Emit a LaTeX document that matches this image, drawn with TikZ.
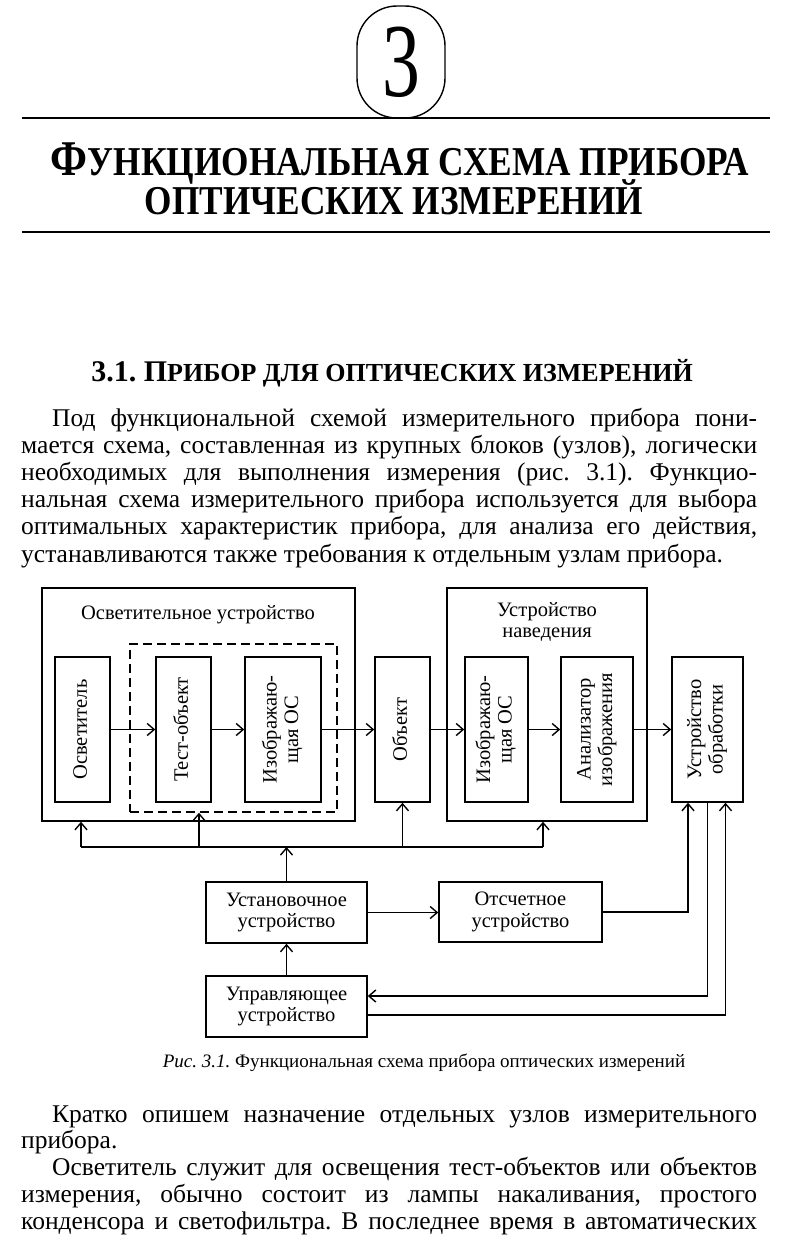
\documentclass[tikz,border=0pt]{standalone}
\usepackage{fontspec}
\usepackage{graphicx}
\setmainfont{Liberation Serif}[BoldFont={Liberation Serif Bold}, ItalicFont={Liberation Serif Italic}]
\frenchspacing
\usetikzlibrary{arrows.meta}
\tikzset{
  blk/.style={draw, line width=1.5pt, inner sep=0pt, font=\fontsize{20.5}{21.5}\selectfont},
  grp/.style={draw, line width=1.5pt, inner sep=0pt},
  dsh/.style={draw, line width=1.4pt, inner sep=0pt, dash pattern=on 9pt off 5pt},
  arr/.style={line width=1.4pt, -{Straight Barb[length=7pt,width=12pt,line width=1.4pt]}},
  ln/.style={line width=1.4pt},
  rule/.style={line width=2pt},
  lbl/.style={inner sep=0pt, align=center, font=\fontsize{20.5}{21.5}\selectfont},
  txt/.style={anchor=base west, inner sep=0pt, font=\fontsize{25.5}{27}\selectfont},
  captxt/.style={anchor=base, inner sep=0pt, font=\fontsize{19}{22}\selectfont},
  head/.style={anchor=base, inner sep=0pt, font=\bfseries},
}
\newcommand\rot[1]{\rotatebox{90}{\begin{tabular}{@{}c@{}}#1\end{tabular}}}
\begin{document}
\begin{tikzpicture}[x=1pt,y=-1pt]
\useasboundingbox[fill=white] (0,0) rectangle (794,1258);
% chapter number
\node[draw, line width=1.4pt, rounded corners=40pt, minimum width=88pt, minimum height=112pt, inner sep=0pt] (chap) at (401,62)
  {\scalebox{0.72}[1]{\fontsize{105}{105}\selectfont 3}};
\draw[rule] (22,118) -- (770,118);
\node[head] (t1) at (400,175)
  {\scalebox{0.86}[1]{\fontsize{50}{50}\selectfont Ф\fontsize{41}{41}\selectfont УНКЦИОНАЛЬНАЯ СХЕМА ПРИБОРА}};
\node[head] (t2) at (394,214)
  {\scalebox{0.86}[1]{\fontsize{41}{41}\selectfont ОПТИЧЕСКИХ ИЗМЕРЕНИЙ}};
\draw[rule] (22,232) -- (770,232);
% section heading
\node[head] (h1) at (392,381)
  {\fontsize{30}{30}\selectfont 3.1. П\fontsize{26}{26}\selectfont РИБОР ДЛЯ ОПТИЧЕСКИХ ИЗМЕРЕНИЙ};
% paragraph
\node[txt] (p1) at (52,426) {\makebox[705pt][s]{Под функциональной схемой измерительного прибора пони-}};
\node[txt] (p2) at (21,453.2) {\makebox[736pt][s]{мается схема, составленная из крупных блоков (узлов), логически}};
\node[txt] (p3) at (21,480.4) {\makebox[736pt][s]{необходимых для выполнения измерения (рис. 3.1). Функцио-}};
\node[txt] (p4) at (21,507.6) {\makebox[736pt][s]{нальная схема измерительного прибора используется для выбора}};
\node[txt] (p5) at (21,534.8) {\makebox[736pt][s]{оптимальных характеристик прибора, для анализа его действия,}};
\node[txt] (p6) at (21,562) {устанавливаются также требования к отдельным узлам прибора.};
% diagram groups
\node[grp, minimum width=313pt, minimum height=233pt] (g1) at (198.5,704.5) {};
\node[lbl] (g1t) at (198,615) {Осветительное устройство};
\node[dsh, minimum width=207pt, minimum height=168pt] (dg) at (233.5,728) {};
\node[grp, minimum width=200pt, minimum height=233pt] (g2) at (547,704.5) {};
\node[lbl] (g2t) at (547,622) {Устройство\\наведения};
% blocks
\node[blk, minimum width=55pt, minimum height=145pt] (osv) at (82.5,729.5) {\rot{Осветитель}};
\node[blk, minimum width=55pt, minimum height=145pt] (test) at (183.5,729.5) {\rot{Тест-объект}};
\node[blk, minimum width=76pt, minimum height=145pt] (izo1) at (283,729.5) {\rot{Изображаю-\\щая ОС}};
\node[blk, minimum width=55pt, minimum height=145pt] (obj) at (402.5,729.5) {\rot{Объект}};
\node[blk, minimum width=63pt, minimum height=145pt] (izo2) at (496.5,729.5) {\rot{Изображаю-\\щая ОС}};
\node[blk, minimum width=72pt, minimum height=145pt] (anl) at (597,729.5) {\rot{Анализатор\\изображения}};
\node[blk, minimum width=71pt, minimum height=145pt] (obr) at (707.5,729.5) {\rot{Устройство\\обработки}};
\node[blk, minimum width=161pt, minimum height=61pt, align=center] (ust) at (286.5,912.5) {Установочное\\устройство};
\node[blk, minimum width=163pt, minimum height=60pt, align=center] (ots) at (520.5,912) {Отсчетное\\устройство};
\node[blk, minimum width=161pt, minimum height=61pt, align=center] (upr) at (286.5,1006.5) {Управляющее\\устройство};
% main optical chain
\draw[arr] (osv) -- (test);
\draw[arr] (test) -- (izo1);
\draw[arr] (izo1) -- (obj);
\draw[arr] (obj) -- (izo2);
\draw[arr] (izo2) -- (anl);
\draw[arr] (anl) -- (obr);
% bus
\coordinate (bL) at (81,847);
\coordinate (bD) at (199,847);
\coordinate (bR) at (543,847);
\draw[ln] (bL) -- (bR);
\draw[arr] (bL) -- (bL |- g1.south);
\draw[arr] (bD) -- (bD |- dg.south);
\draw[arr] (obj.south |- bL) -- (obj.south);
\draw[arr] (bR) -- (bR |- g2.south);
\draw[arr] (ust.north) -- (ust.north |- bL);
% lower links
\draw[arr] (ust.east) -- (ust.east -| ots.west);
\draw[arr] (ots.east) -| ([xshift=-19.5pt]obr.south);
\draw[arr] (obr.south) |- ([yshift=10.5pt]upr.east);
\draw[arr] ([yshift=-8.5pt]upr.east) -| ([xshift=18pt]obr.south);
\draw[arr] (upr.north) -- (ust.south);
% caption
\node[captxt] (cp) at (424,1067) {\textit{Рис. 3.1.} Функциональная схема прибора оптических измерений};
% following text
\node[txt] (q1) at (52,1122) {\makebox[705pt][s]{Кратко опишем назначение отдельных узлов измерительного}};
\node[txt] (q2) at (21,1148.8) {прибора.};
\node[txt] (q3) at (52,1175.6) {\makebox[705pt][s]{Осветитель служит для освещения тест-объектов или объектов}};
\node[txt] (q4) at (21,1202.4) {\makebox[736pt][s]{измерения, обычно состоит из лампы накаливания, простого}};
\node[txt] (q5) at (21,1229.2) {\makebox[736pt][s]{конденсора и светофильтра. В последнее время в автоматических}};
\end{tikzpicture}
\end{document}
